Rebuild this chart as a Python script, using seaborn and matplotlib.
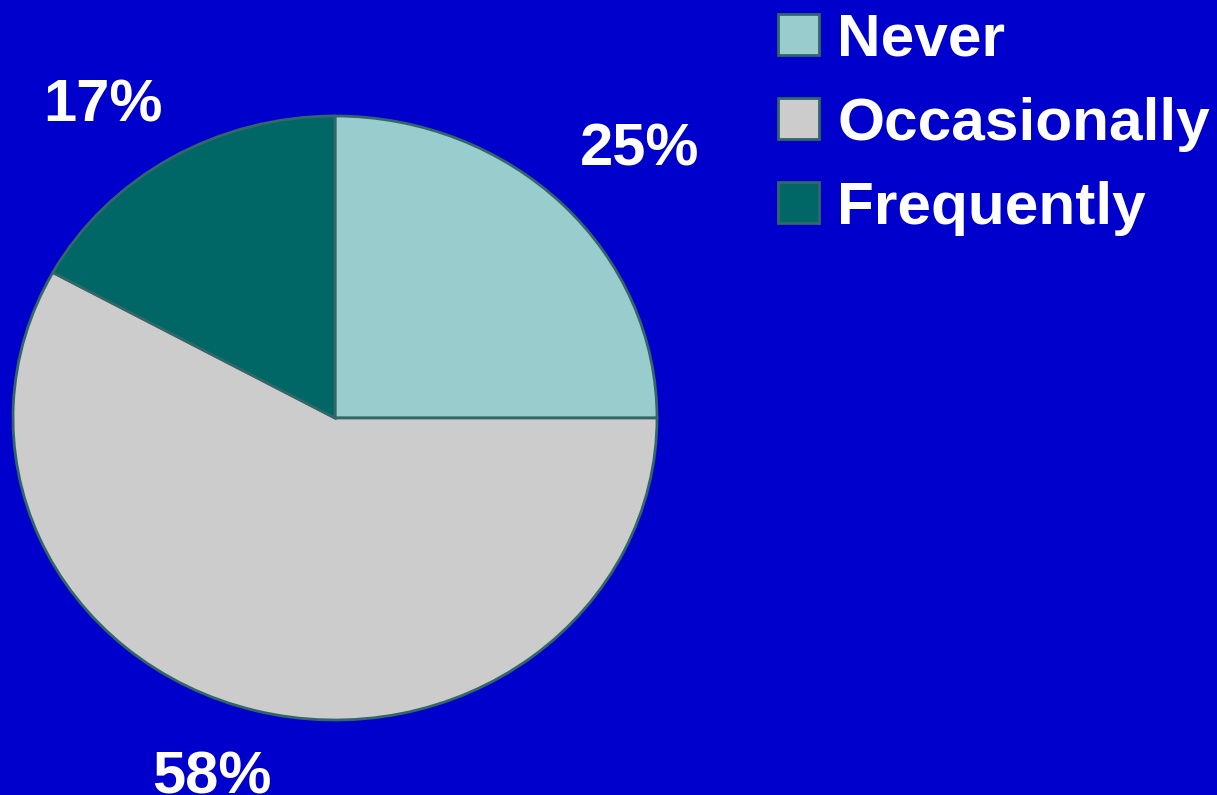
import matplotlib
matplotlib.use("Agg")
import matplotlib.pyplot as plt
import seaborn as sns

categories = ["Never", "Occasionally", "Frequently"]
values = [25, 58, 17]
colors = ["#99CCCC", "#CCCCCC", "#006666"]
label_texts = [f"{v}%" for v in values]

sns.set_style("white")
plt.rcParams['font.family'] = ['Liberation Sans', 'DejaVu Sans']

W, H = 1217, 795
fig = plt.figure(figsize=(W / 100, H / 100), dpi=100, facecolor="#0000CC")

cx, cy, rx, ry = 335, 418, 322, 302
ax = fig.add_axes([(cx - rx) / W, (H - cy - ry) / H, 2 * rx / W, 2 * ry / H])
ax.set_facecolor("#0000CC")
wedges, _ = ax.pie(values, colors=colors, startangle=90, counterclock=False,
                   radius=1, wedgeprops=dict(edgecolor="#336666", linewidth=2))
ax.set_aspect("auto")
ax.set_xlim(-1, 1)
ax.set_ylim(-1, 1)
ax.axis("off")

# label positions (pixel centre x, baseline y)
label_pos = [(640, 165), (212, 793), (103, 122)]
for txt, (px, py) in zip(label_texts, label_pos):
    ax.text((px - cx) / rx, (cy - py) / ry, txt, ha="center", va="baseline",
            color="white", fontsize=43, fontweight="bold", clip_on=False)

leg = fig.legend(wedges, categories, loc="upper left",
                 bbox_to_anchor=(778 / W, 1 - 13 / H), frameon=False,
                 prop=dict(family="Liberation Sans", weight="bold", size=43.5),
                 labelcolor="white", handlelength=0.68, handleheight=0.67,
                 handletextpad=0.3, labelspacing=0.48, borderpad=0,
                 borderaxespad=0)

fig.savefig("out.png", dpi=100, facecolor=fig.get_facecolor())
